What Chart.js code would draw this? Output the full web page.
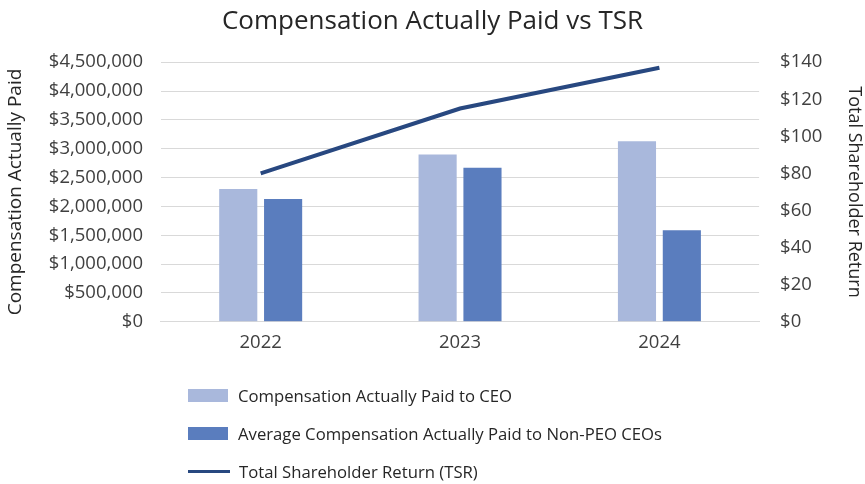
<!DOCTYPE html>
<html lang="en">
<head>
    <meta charset="UTF-8">
    <title>Compensation Actually Paid vs TSR</title>
    <script src="https://cdn.jsdelivr.net/npm/chart.js"></script>
    <style>
        html, body { margin: 0; padding: 0; background: #fff; }
        .wrap { position: relative; width: 865px; height: 484px; font-family: "Open Sans", sans-serif; }
        .legend { position: absolute; left: 188px; top: 376px; color: #262626; font-size: 16.7px; }
        .legend .item { display: flex; align-items: center; height: 38px; }
        .legend .box { width: 40px; height: 13px; margin-right: 10px; }
        .legend .line { width: 42px; height: 3px; margin-right: 9px; }
    </style>
</head>
<body>
    <div class="wrap">
        <canvas id="chart" width="865" height="484"></canvas>
        <div class="legend" id="legend"></div>
    </div>

    <script>
        const years = ["2022", "2023", "2024"];
        const ceoPaid = [2300000, 2900000, 3130000];
        const nonPeoPaid = [2130000, 2670000, 1585000];
        const tsr = [80, 115, 137];

        const seriesNames = [
            "Compensation Actually Paid to CEO",
            "Average Compensation Actually Paid to Non-PEO CEOs",
            "Total Shareholder Return (TSR)"
        ];
        const colors = ["#a9b8dc", "#5a7dbe", "#284880"];

        const font = "'Open Sans', sans-serif";
        const textColor = "#404040";

        new Chart(document.getElementById("chart"), {
            data: {
                labels: years,
                datasets: [
                    {
                        type: "line",
                        label: seriesNames[2],
                        data: tsr,
                        yAxisID: "y2",
                        borderColor: colors[2],
                        borderWidth: 4,
                        pointRadius: 0,
                        tension: 0,
                        order: 0
                    },
                    {
                        type: "bar",
                        label: seriesNames[0],
                        data: ceoPaid,
                        yAxisID: "y",
                        backgroundColor: colors[0],
                        categoryPercentage: 0.45,
                        barPercentage: 0.85,
                        order: 1
                    },
                    {
                        type: "bar",
                        label: seriesNames[1],
                        data: nonPeoPaid,
                        yAxisID: "y",
                        backgroundColor: colors[1],
                        categoryPercentage: 0.45,
                        barPercentage: 0.85,
                        order: 1
                    }
                ]
            },
            options: {
                responsive: false,
                animation: false,
                layout: { padding: { left: 0, right: 0, top: 6, bottom: 120 } },
                plugins: {
                    legend: { display: false },
                    tooltip: { enabled: false },
                    title: {
                        display: true,
                        text: "Compensation Actually Paid vs TSR",
                        color: "#262626",
                        font: { family: font, size: 26, weight: "normal" },
                        padding: { top: 0, bottom: 25 }
                    }
                },
                scales: {
                    x: {
                        grid: { display: false, drawTicks: false },
                        border: { color: "#d9d9d9" },
                        ticks: { color: textColor, font: { family: font, size: 18.5 }, padding: 10 }
                    },
                    y: {
                        position: "left",
                        min: 0,
                        max: 4500000,
                        ticks: {
                            stepSize: 500000,
                            color: textColor,
                            font: { family: font, size: 18.5 },
                            padding: 18,
                            callback: v => "$" + v.toLocaleString("en-US")
                        },
                        grid: { color: "#d9d9d9", drawTicks: false },
                        border: { display: false },
                        title: {
                            display: true,
                            text: "Compensation Actually Paid",
                            color: "#262626",
                            font: { family: font, size: 19 },
                            padding: { bottom: 4 }
                        }
                    },
                    y2: {
                        position: "right",
                        min: 0,
                        max: 140,
                        ticks: {
                            stepSize: 20,
                            color: textColor,
                            font: { family: font, size: 18.5 },
                            padding: 21,
                            callback: v => "$" + v
                        },
                        grid: { display: false, drawTicks: false },
                        border: { display: false },
                        title: {
                            display: true,
                            text: "Total Shareholder Return",
                            color: "#262626",
                            font: { family: font, size: 18 },
                            padding: 0
                        }
                    }
                }
            }
        });

        // legend drawn as html so each entry gets its own left-aligned row
        const legend = document.getElementById("legend");
        seriesNames.forEach((name, i) => {
            const item = document.createElement("div");
            item.className = "item";
            const mark = document.createElement("span");
            mark.className = i === 2 ? "line" : "box";
            mark.style.background = colors[i];
            const label = document.createElement("span");
            label.textContent = name;
            item.appendChild(mark);
            item.appendChild(label);
            legend.appendChild(item);
        });
    </script>
</body>
</html>
